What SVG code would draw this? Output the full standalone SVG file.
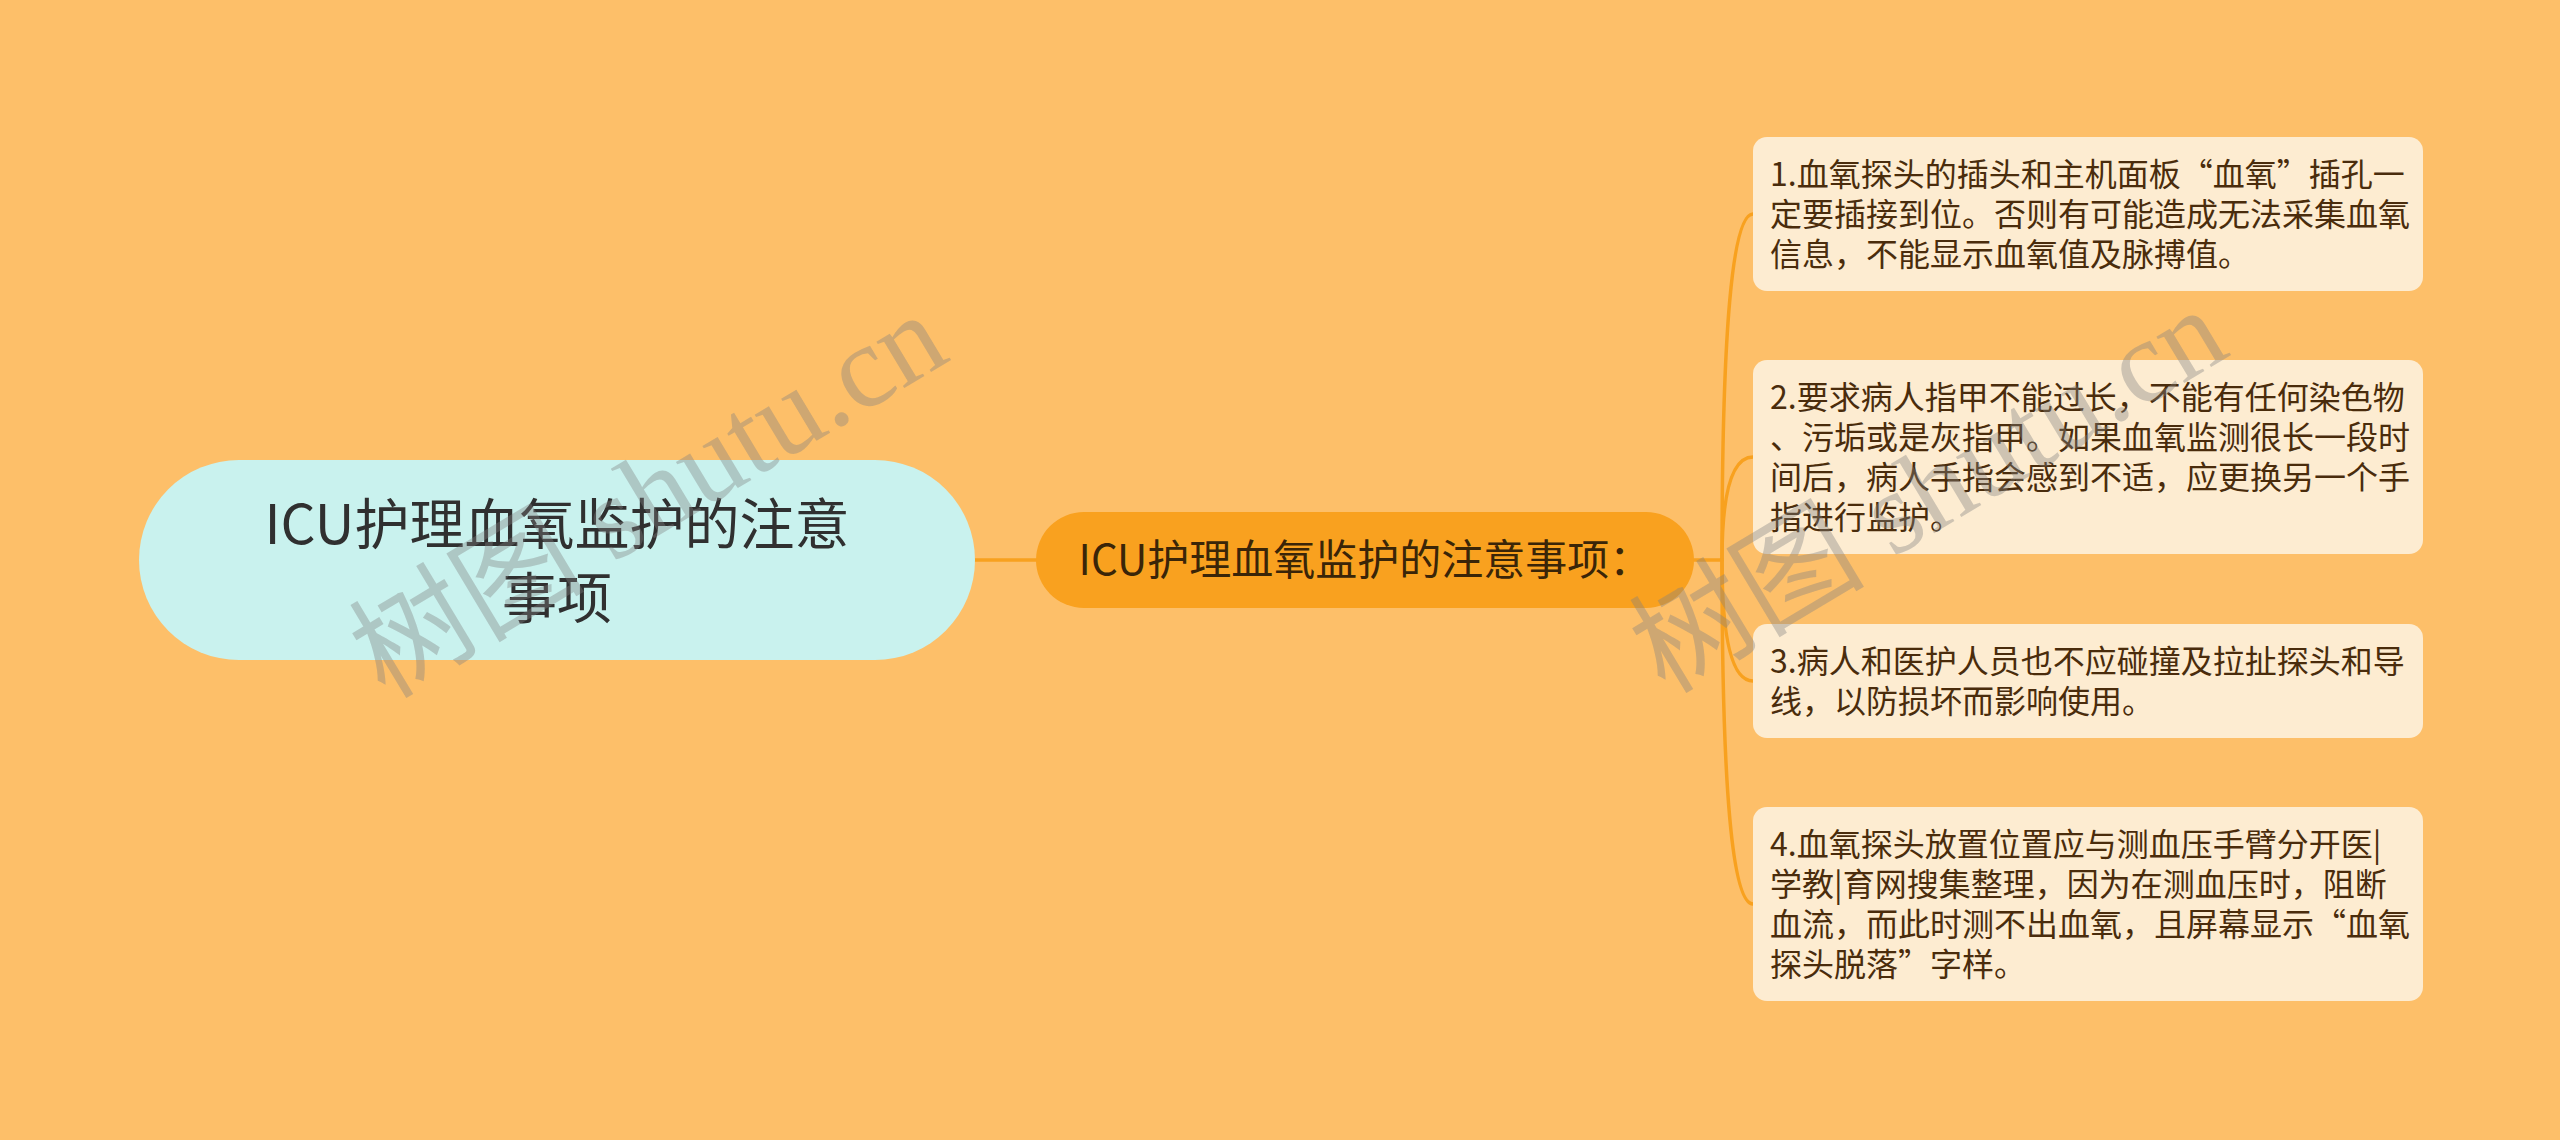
<svg xmlns="http://www.w3.org/2000/svg" width="2560" height="1140" viewBox="0 0 2560 1140">
  <style>
    .bg { fill: #fdbf69; }
    .conn { fill: none; stroke: #f8a11f; stroke-width: 3.5; stroke-linecap: round; }
    .root-box { fill: #c9f2ee; }
    .root-txt { font-family: "Noto Sans CJK SC", "Noto Sans", sans-serif; font-size: 55px; fill: #303030; text-anchor: middle; }
    .main-box { fill: #f9a11f; }
    .main-txt { font-family: "Noto Sans CJK SC", "Noto Sans", sans-serif; font-size: 42px; fill: #3a2508; text-anchor: middle; }
    .leaf-box { fill: #fdecd1; }
    .leaf-txt { font-family: "Noto Sans CJK SC", "Noto Sans", sans-serif; font-size: 32px; fill: #4a2c0c; }
    .wm { font-family: "Liberation Serif", "Noto Sans CJK SC", serif; font-size: 118px; fill: #808080; fill-opacity: 0.38; }
  </style>
  <rect class="bg" x="0" y="0" width="2560" height="1140"/>

  <g id="connectors">
    <path class="conn" d="M 975 560 L 1036 560"/>
    <path class="conn" d="M 1694 560 L 1722 560"/>
    <path class="conn" d="M 1722 560 Q 1722 214 1753 214"/>
    <path class="conn" d="M 1722 560 Q 1722 457 1753 457"/>
    <path class="conn" d="M 1722 560 Q 1722 681 1753 681"/>
    <path class="conn" d="M 1722 560 Q 1722 904 1753 904"/>
  </g>

  <g id="root">
    <rect class="root-box" x="139" y="460" width="836" height="200" rx="100" ry="100"/>
    <text class="root-txt" x="557" y="544">ICU护理血氧监护的注意</text>
    <text class="root-txt" x="557" y="618">事项</text>
  </g>

  <g id="main-topic">
    <rect class="main-box" x="1036" y="512" width="658" height="96" rx="48" ry="48"/>
    <text class="main-txt" x="1365" y="575">ICU护理血氧监护的注意事项：</text>
  </g>

  <g id="leaf1">
    <rect class="leaf-box" x="1753" y="137" width="670" height="154" rx="14" ry="14"/>
    <text class="leaf-txt" x="1770" y="186">1.血氧探头的插头和主机面板“血氧”插孔一</text>
    <text class="leaf-txt" x="1770" y="226">定要插接到位。否则有可能造成无法采集血氧</text>
    <text class="leaf-txt" x="1770" y="266">信息，不能显示血氧值及脉搏值。</text>
  </g>

  <g id="leaf2">
    <rect class="leaf-box" x="1753" y="360" width="670" height="194" rx="14" ry="14"/>
    <text class="leaf-txt" x="1770" y="409">2.要求病人指甲不能过长，不能有任何染色物</text>
    <text class="leaf-txt" x="1770" y="449">、污垢或是灰指甲。如果血氧监测很长一段时</text>
    <text class="leaf-txt" x="1770" y="489">间后，病人手指会感到不适，应更换另一个手</text>
    <text class="leaf-txt" x="1770" y="529">指进行监护。</text>
  </g>

  <g id="leaf3">
    <rect class="leaf-box" x="1753" y="624" width="670" height="114" rx="14" ry="14"/>
    <text class="leaf-txt" x="1770" y="673">3.病人和医护人员也不应碰撞及拉扯探头和导</text>
    <text class="leaf-txt" x="1770" y="713">线，以防损坏而影响使用。</text>
  </g>

  <g id="leaf4">
    <rect class="leaf-box" x="1753" y="807" width="670" height="194" rx="14" ry="14"/>
    <text class="leaf-txt" x="1770" y="856">4.血氧探头放置位置应与测血压手臂分开医|</text>
    <text class="leaf-txt" x="1770" y="896">学教|育网搜集整理，因为在测血压时，阻断</text>
    <text class="leaf-txt" x="1770" y="936">血流，而此时测不出血氧，且屏幕显示“血氧</text>
    <text class="leaf-txt" x="1770" y="976">探头脱落”字样。</text>
  </g>

  <g id="watermarks">
    <text class="wm" x="385" y="700" transform="rotate(-31 385 700)">树图 shutu.cn</text>
    <text class="wm" x="1665" y="695" transform="rotate(-31 1665 695)">树图 shutu.cn</text>
  </g>
</svg>
